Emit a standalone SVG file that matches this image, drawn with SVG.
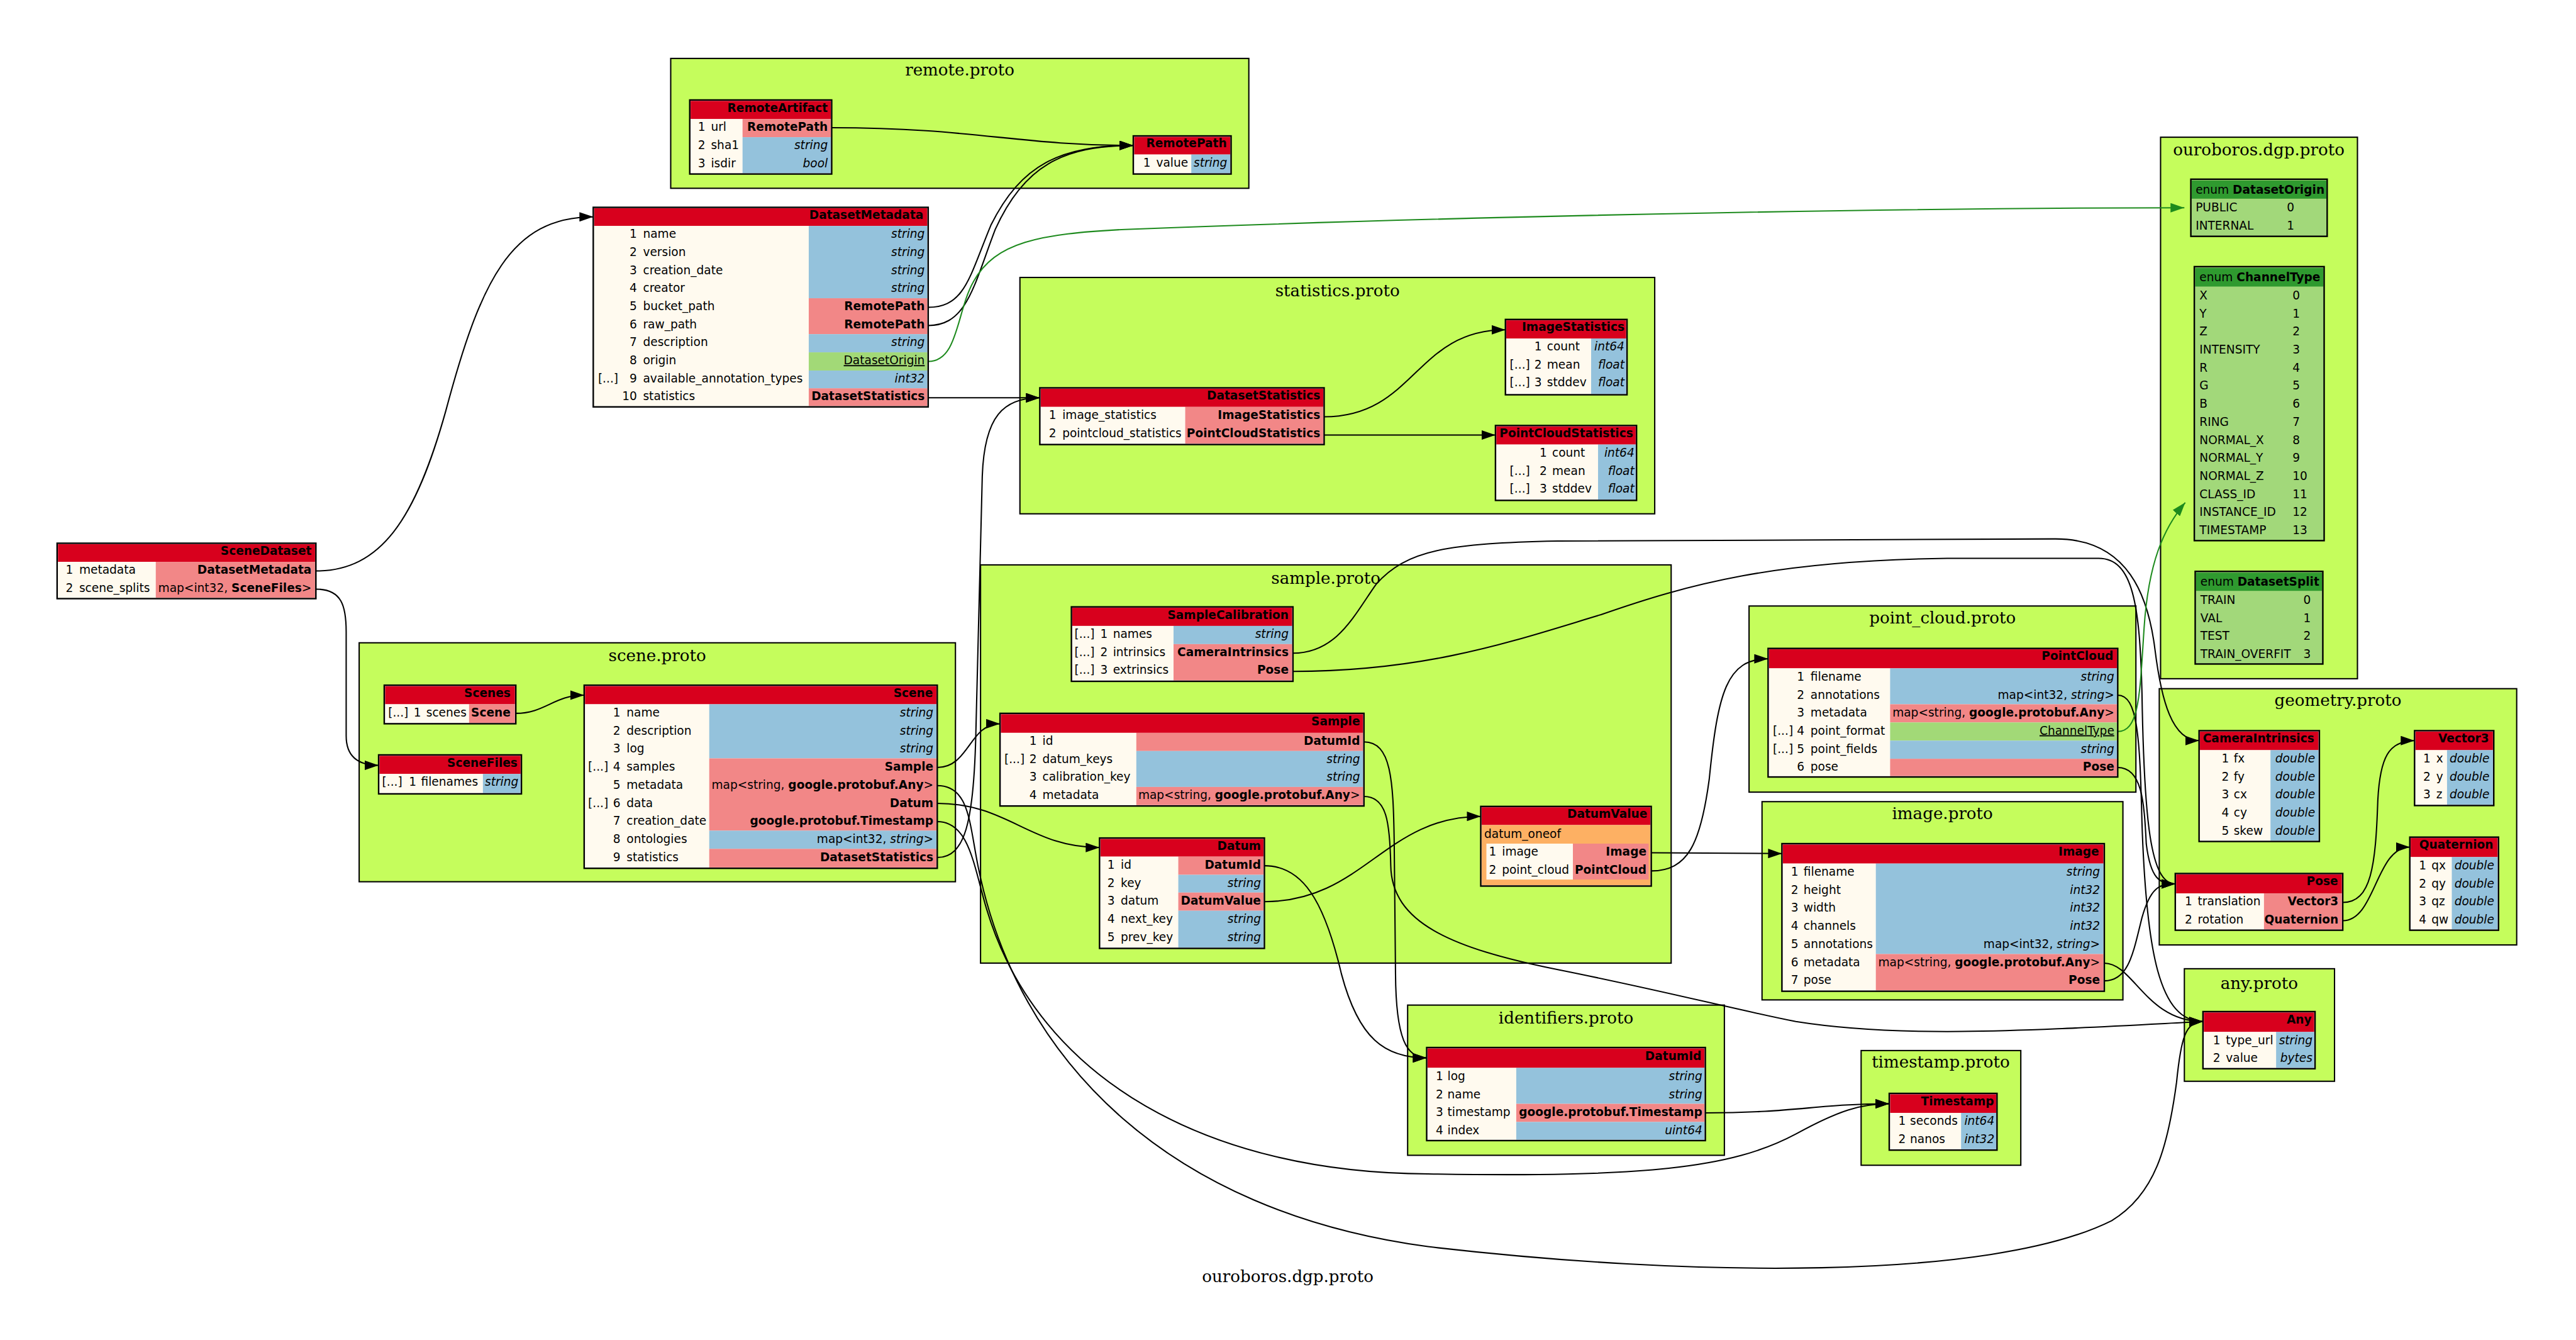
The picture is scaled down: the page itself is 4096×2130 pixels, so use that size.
<svg xmlns="http://www.w3.org/2000/svg" width="4096" height="2130" viewBox="0 0 4096 2130">
<defs>
<style>
.cl{fill:#c5fd5c;stroke:#000;stroke-width:3}
.bx{fill:none;stroke:#000;stroke-width:3.5}
.bg{fill:#fff}
.hd{fill:#d8001d}
.cr{fill:#fffaef}
.pk{fill:#f28787}
.bl{fill:#94c2dc}
.gn{fill:#a2d977}
.og{fill:#fdb063}
.eh{fill:#2f9a2f}
.eb{fill:#a2d87a}
text{font-family:"DejaVu Sans",sans-serif;font-size:27px;fill:#000}
text.ct{font-family:"DejaVu Serif",serif;font-size:38px;text-anchor:middle}
.e{text-anchor:end}
.b{font-weight:bold}
.i{font-style:italic}
.u{text-decoration:underline}
.ed{fill:none;stroke:#000;stroke-width:3}
.eg{fill:none;stroke:#1d8a1d;stroke-width:3}
</style>
<marker id="ab" viewBox="0 0 32 22" refX="32" refY="11" markerWidth="32" markerHeight="22" markerUnits="userSpaceOnUse" orient="auto"><path d="M0,0 L32,11 L0,22 z" fill="#000"/></marker>
<marker id="ag" viewBox="0 0 32 22" refX="32" refY="11" markerWidth="32" markerHeight="22" markerUnits="userSpaceOnUse" orient="auto"><path d="M0,0 L32,11 L0,22 z" fill="#1d8a1d"/></marker>
</defs>
<rect width="4096" height="2130" fill="#fff"/>
<g transform="scale(0.68805)">
<g id="clusters">
<rect class="cl" x="1550" y="135" width="1336" height="300"/><text class="ct" x="2218" y="175">remote.proto</text>
<rect class="cl" x="2357" y="641" width="1467" height="546"/><text class="ct" x="3091" y="684">statistics.proto</text>
<rect class="cl" x="4993" y="317" width="455" height="1251"/><text class="ct" x="5220" y="359">ouroboros.dgp.proto</text>
<rect class="cl" x="830" y="1485" width="1378" height="552"/><text class="ct" x="1519" y="1527">scene.proto</text>
<rect class="cl" x="2266" y="1305" width="1596" height="920"/><text class="ct" x="3064" y="1349">sample.proto</text>
<rect class="cl" x="4042" y="1400" width="894" height="430"/><text class="ct" x="4489" y="1440">point_cloud.proto</text>
<rect class="cl" x="4072" y="1852" width="834" height="458"/><text class="ct" x="4489" y="1892">image.proto</text>
<rect class="cl" x="4990" y="1591" width="826" height="592"/><text class="ct" x="5403" y="1631">geometry.proto</text>
<rect class="cl" x="3253" y="2322" width="732" height="347"/><text class="ct" x="3619" y="2364">identifiers.proto</text>
<rect class="cl" x="4301" y="2427" width="369" height="265"/><text class="ct" x="4485" y="2467">timestamp.proto</text>
<rect class="cl" x="5048" y="2238" width="347" height="260"/><text class="ct" x="5221" y="2285">any.proto</text>
</g>
<text class="ct" x="2976" y="2962">ouroboros.dgp.proto</text>

<g id="edges">
<path class="ed" marker-end="url(#ab)" d="M730,1319 C880,1319 960,1200 1030,950 C1110,650 1180,501 1371,501"/>
<path class="ed" marker-end="url(#ab)" d="M730,1361 C790,1361 800,1400 800,1460 L800,1700 C800,1750 830,1768 875,1768"/>
<path class="ed" marker-end="url(#ab)" d="M1192,1648 C1260,1648 1280,1606 1350,1606"/>
<path class="ed" marker-end="url(#ab)" d="M1922,295 C2250,295 2350,336 2619,336"/>
<path class="ed" marker-end="url(#ab)" d="M2145,710 C2230,710 2240,640 2290,520 C2360,380 2450,336 2619,336"/>
<path class="ed" marker-end="url(#ab)" d="M2145,752 C2235,752 2250,660 2300,530 C2365,385 2455,336 2619,336"/>
<path class="eg" marker-end="url(#ag)" d="M2145,835 C2215,835 2210,720 2250,650 C2300,560 2400,540 2600,530 C3500,495 4500,480 5048,480"/>
<path class="ed" marker-end="url(#ab)" d="M2145,919 C2250,919 2300,919 2403,919"/>
<path class="ed" marker-end="url(#ab)" d="M3060,963 C3270,963 3270,762 3479,762"/>
<path class="ed" marker-end="url(#ab)" d="M3060,1005 L3456,1005"/>
<path class="ed" marker-end="url(#ab)" d="M2166,1981 C2230,1981 2250,1900 2255,1700 L2270,1100 C2275,960 2320,919 2403,919"/>
<path class="ed" marker-end="url(#ab)" d="M2166,1773 C2240,1773 2240,1672 2311,1672"/>
<path class="ed" marker-end="url(#ab)" d="M2166,1856 C2330,1856 2380,1958 2541,1958"/>
<path class="ed" marker-end="url(#ab)" d="M2166,1815 C2240,1815 2240,1900 2260,2000 C2350,2450 2700,2800 3300,2880 C3900,2950 4600,2960 4880,2820 C4980,2760 5010,2650 5030,2500 C5040,2400 5050,2360 5091,2360"/>
<path class="ed" marker-end="url(#ab)" d="M2166,1898 C2240,1898 2250,2000 2280,2100 C2400,2500 2800,2710 3300,2712 C3800,2720 4000,2700 4150,2620 C4250,2565 4300,2550 4366,2550"/>
<path class="ed" marker-end="url(#ab)" d="M3152,1714 C3215,1714 3220,1800 3222,1950 L3225,2250 C3226,2400 3250,2444 3297,2444"/>
<path class="ed" marker-end="url(#ab)" d="M3152,1840 C3205,1840 3212,1900 3214,2000 C3216,2130 3350,2190 3600,2240 C3850,2290 4000,2330 4150,2360 C4400,2400 4700,2380 5091,2360"/>
<path class="ed" marker-end="url(#ab)" d="M2922,2000 C3010,2000 3060,2080 3100,2250 C3140,2400 3200,2444 3297,2444"/>
<path class="ed" marker-end="url(#ab)" d="M2922,2083 C3150,2083 3200,1886 3422,1886"/>
<path class="ed" marker-end="url(#ab)" d="M3816,1970 L4118,1972"/>
<path class="ed" marker-end="url(#ab)" d="M3816,2012 C3900,2012 3930,1950 3950,1800 C3970,1600 3990,1522 4086,1522"/>
<path class="ed" marker-end="url(#ab)" d="M3941,2571 C4150,2571 4200,2550 4366,2550"/>
<path class="ed" marker-end="url(#ab)" d="M2988,1509 C3090,1509 3130,1420 3180,1350 C3250,1270 3350,1255 3600,1250 L4750,1245 C4920,1245 4965,1380 4980,1500 C4995,1620 5020,1711 5082,1711"/>
<path class="ed" marker-end="url(#ab)" d="M2988,1551 C3300,1551 3500,1480 3700,1420 C3900,1350 4100,1295 4500,1290 L4850,1290 C4930,1290 4945,1400 4950,1600 C4955,1900 4970,2042 5027,2042"/>
<path class="ed" marker-end="url(#ab)" d="M4894,1606 C4940,1606 4945,1700 4950,1900 C4960,2200 4990,2360 5091,2360"/>
<path class="ed" marker-end="url(#ab)" d="M4894,1773 C4950,1773 4955,1850 4960,1950 C4970,2030 4990,2042 5027,2042"/>
<path class="eg" marker-end="url(#ag)" d="M4894,1690 C4945,1690 4945,1600 4955,1450 C4965,1300 5000,1220 5050,1161"/>
<path class="ed" marker-end="url(#ab)" d="M4863,2225 C4930,2225 4960,2360 5091,2360"/>
<path class="ed" marker-end="url(#ab)" d="M4863,2266 C4920,2266 4930,2200 4950,2120 C4970,2050 4990,2042 5027,2042"/>
<path class="ed" marker-end="url(#ab)" d="M5414,2085 C5480,2085 5490,2000 5495,1850 C5500,1750 5520,1711 5580,1711"/>
<path class="ed" marker-end="url(#ab)" d="M5414,2127 C5490,2127 5490,1957 5569,1957"/>
</g>

<g id="RemoteArtifact">
<rect class="bg" x="1594" y="231" width="328" height="171"/>
<rect class="hd" x="1596" y="233" width="324" height="42"/>
<rect class="cr" x="1596" y="275" width="120" height="125"/>
<rect class="pk" x="1716" y="275" width="204" height="42"/>
<rect class="bl" x="1716" y="317" width="204" height="83"/>
<rect class="bx" x="1594" y="231" width="328" height="171"/>
<text class="e b" x="1913" y="258">RemoteArtifact</text>
<text x="1613" y="303">1</text><text x="1643" y="303">url</text><text class="e b" x="1913" y="303">RemotePath</text>
<text x="1613" y="345">2</text><text x="1643" y="345">sha1</text><text class="e i" x="1913" y="345">string</text>
<text x="1613" y="386">3</text><text x="1643" y="386">isdir</text><text class="e i" x="1913" y="386">bool</text>
</g>

<g id="RemotePath">
<rect class="bg" x="2619" y="314" width="226" height="88"/>
<rect class="hd" x="2621" y="316" width="222" height="41"/>
<rect class="cr" x="2621" y="357" width="132" height="43"/>
<rect class="bl" x="2753" y="357" width="90" height="43"/>
<rect class="bx" x="2619" y="314" width="226" height="88"/>
<text class="e b" x="2835" y="340">RemotePath</text>
<text x="2642" y="385">1</text><text x="2672" y="385">value</text><text class="e i" x="2836" y="385">string</text>
</g>

<g id="DatasetMetadata">
<rect class="bg" x="1371" y="479" width="774" height="461"/>
<rect class="hd" x="1373" y="481" width="770" height="41"/>
<rect class="cr" x="1373" y="522" width="496" height="416"/>
<rect class="bl" x="1869" y="522" width="274" height="167"/>
<rect class="pk" x="1869" y="689" width="274" height="83"/>
<rect class="bl" x="1869" y="772" width="274" height="42"/>
<rect class="gn" x="1869" y="814" width="274" height="42"/>
<rect class="bl" x="1869" y="856" width="274" height="41"/>
<rect class="pk" x="1869" y="897" width="274" height="41"/>
<rect class="bx" x="1371" y="479" width="774" height="461"/>
<text class="e b" x="2134" y="506">DatasetMetadata</text>
<text class="e" x="1472" y="550">1</text><text x="1486" y="550">name</text><text class="e i" x="2137" y="550">string</text>
<text class="e" x="1472" y="592">2</text><text x="1486" y="592">version</text><text class="e i" x="2137" y="592">string</text>
<text class="e" x="1472" y="633">3</text><text x="1486" y="633">creation_date</text><text class="e i" x="2137" y="633">string</text>
<text class="e" x="1472" y="675">4</text><text x="1486" y="675">creator</text><text class="e i" x="2137" y="675">string</text>
<text class="e" x="1472" y="717">5</text><text x="1486" y="717">bucket_path</text><text class="e b" x="2137" y="717">RemotePath</text>
<text class="e" x="1472" y="758">6</text><text x="1486" y="758">raw_path</text><text class="e b" x="2137" y="758">RemotePath</text>
<text class="e" x="1472" y="800">7</text><text x="1486" y="800">description</text><text class="e i" x="2137" y="800">string</text>
<text class="e" x="1472" y="842">8</text><text x="1486" y="842">origin</text><text class="e u" x="2137" y="842">DatasetOrigin</text>
<text x="1382" y="884">[...]</text><text class="e" x="1472" y="884">9</text><text x="1486" y="884">available_annotation_types</text><text class="e i" x="2137" y="884">int32</text>
<text class="e" x="1472" y="925">10</text><text x="1486" y="925">statistics</text><text class="e b" x="2137" y="925">DatasetStatistics</text>
</g>

<g id="SceneDataset">
<rect class="bg" x="132" y="1255" width="598" height="128"/>
<rect class="hd" x="134" y="1257" width="594" height="41"/>
<rect class="cr" x="134" y="1298" width="226" height="83"/>
<rect class="pk" x="360" y="1298" width="368" height="83"/>
<rect class="bx" x="132" y="1255" width="598" height="128"/>
<text class="e b" x="720" y="1282">SceneDataset</text>
<text x="152" y="1326">1</text><text x="183" y="1326">metadata</text><text class="e b" x="720" y="1326">DatasetMetadata</text>
<text x="152" y="1368">2</text><text x="183" y="1368">scene_splits</text><text class="e" x="720" y="1368">map&lt;int32, <tspan class="b">SceneFiles</tspan>&gt;</text>
</g>

<g id="Scenes">
<rect class="bg" x="888" y="1583" width="304" height="89"/>
<rect class="hd" x="890" y="1585" width="300" height="42"/>
<rect class="cr" x="890" y="1627" width="194" height="43"/>
<rect class="pk" x="1084" y="1627" width="106" height="43"/>
<rect class="bx" x="888" y="1583" width="304" height="89"/>
<text class="e b" x="1180" y="1610">Scenes</text>
<text x="897" y="1655">[...]</text><text x="956" y="1655">1</text><text x="985" y="1655">scenes</text><text class="e b" x="1180" y="1655">Scene</text>
</g>

<g id="SceneFiles">
<rect class="bg" x="875" y="1744" width="330" height="90"/>
<rect class="hd" x="877" y="1746" width="326" height="42"/>
<rect class="cr" x="877" y="1788" width="239" height="44"/>
<rect class="bl" x="1116" y="1788" width="87" height="44"/>
<rect class="bx" x="875" y="1744" width="330" height="90"/>
<text class="e b" x="1196" y="1771">SceneFiles</text>
<text x="883" y="1816">[...]</text><text x="945" y="1816">1</text><text x="973" y="1816">filenames</text><text class="e i" x="1198" y="1816">string</text>
</g>

<g id="Scene">
<rect class="bg" x="1350" y="1583" width="816" height="423"/>
<rect class="hd" x="1352" y="1585" width="812" height="42"/>
<rect class="cr" x="1352" y="1627" width="287" height="377"/>
<rect class="bl" x="1639" y="1627" width="525" height="125"/>
<rect class="pk" x="1639" y="1752" width="525" height="167"/>
<rect class="bl" x="1639" y="1919" width="525" height="42"/>
<rect class="pk" x="1639" y="1961" width="525" height="43"/>
<rect class="bx" x="1350" y="1583" width="816" height="423"/>
<text class="e b" x="2156" y="1610">Scene</text>
<text class="e" x="1434" y="1655">1</text><text x="1448" y="1655">name</text><text class="e i" x="2157" y="1655">string</text>
<text class="e" x="1434" y="1697">2</text><text x="1448" y="1697">description</text><text class="e i" x="2157" y="1697">string</text>
<text class="e" x="1434" y="1738">3</text><text x="1448" y="1738">log</text><text class="e i" x="2157" y="1738">string</text>
<text x="1359" y="1780">[...]</text><text class="e" x="1434" y="1780">4</text><text x="1448" y="1780">samples</text><text class="e b" x="2157" y="1780">Sample</text>
<text class="e" x="1434" y="1822">5</text><text x="1448" y="1822">metadata</text><text class="e" x="2157" y="1822">map&lt;string, <tspan class="b">google.protobuf.Any</tspan>&gt;</text>
<text x="1359" y="1864">[...]</text><text class="e" x="1434" y="1864">6</text><text x="1448" y="1864">data</text><text class="e b" x="2157" y="1864">Datum</text>
<text class="e" x="1434" y="1905">7</text><text x="1448" y="1905">creation_date</text><text class="e b" x="2157" y="1905">google.protobuf.Timestamp</text>
<text class="e" x="1434" y="1947">8</text><text x="1448" y="1947">ontologies</text><text class="e" x="2157" y="1947">map&lt;int32, <tspan class="i">string</tspan>&gt;</text>
<text class="e" x="1434" y="1989">9</text><text x="1448" y="1989">statistics</text><text class="e b" x="2157" y="1989">DatasetStatistics</text>
</g>

<g id="DatasetStatistics">
<rect class="bg" x="2403" y="896" width="657" height="131"/>
<rect class="hd" x="2405" y="898" width="653" height="42"/>
<rect class="cr" x="2405" y="940" width="334" height="85"/>
<rect class="pk" x="2739" y="940" width="319" height="85"/>
<rect class="bx" x="2403" y="896" width="657" height="131"/>
<text class="e b" x="3051" y="923">DatasetStatistics</text>
<text x="2424" y="968">1</text><text x="2455" y="968">image_statistics</text><text class="e b" x="3051" y="968">ImageStatistics</text>
<text x="2424" y="1010">2</text><text x="2455" y="1010">pointcloud_statistics</text><text class="e b" x="3051" y="1010">PointCloudStatistics</text>
</g>

<g id="ImageStatistics">
<rect class="bg" x="3479" y="738" width="281" height="174"/>
<rect class="hd" x="3481" y="740" width="277" height="42"/>
<rect class="cr" x="3481" y="782" width="196" height="128"/>
<rect class="bl" x="3677" y="782" width="81" height="128"/>
<rect class="bx" x="3479" y="738" width="281" height="174"/>
<text class="e b" x="3754" y="765">ImageStatistics</text>
<text class="e" x="3563" y="810">1</text><text x="3575" y="810">count</text><text class="e i" x="3754" y="810">int64</text>
<text x="3489" y="852">[...]</text><text class="e" x="3563" y="852">2</text><text x="3575" y="852">mean</text><text class="e i" x="3754" y="852">float</text>
<text x="3489" y="893">[...]</text><text class="e" x="3563" y="893">3</text><text x="3575" y="893">stddev</text><text class="e i" x="3754" y="893">float</text>
</g>

<g id="PointCloudStatistics">
<rect class="bg" x="3456" y="983" width="326" height="173"/>
<rect class="hd" x="3458" y="985" width="322" height="42"/>
<rect class="cr" x="3458" y="1027" width="235" height="127"/>
<rect class="bl" x="3693" y="1027" width="87" height="127"/>
<rect class="bx" x="3456" y="983" width="326" height="173"/>
<text class="e b" x="3774" y="1010">PointCloudStatistics</text>
<text class="e" x="3575" y="1055">1</text><text x="3587" y="1055">count</text><text class="e i" x="3777" y="1055">int64</text>
<text x="3489" y="1097">[...]</text><text class="e" x="3575" y="1097">2</text><text x="3587" y="1097">mean</text><text class="e i" x="3777" y="1097">float</text>
<text x="3489" y="1138">[...]</text><text class="e" x="3575" y="1138">3</text><text x="3587" y="1138">stddev</text><text class="e i" x="3777" y="1138">float</text>
</g>

<g id="SampleCalibration">
<rect class="bg" x="2476" y="1402" width="512" height="172"/>
<rect class="hd" x="2478" y="1404" width="508" height="42"/>
<rect class="cr" x="2478" y="1446" width="234" height="126"/>
<rect class="bl" x="2712" y="1446" width="274" height="42"/>
<rect class="pk" x="2712" y="1488" width="274" height="84"/>
<rect class="bx" x="2476" y="1402" width="512" height="172"/>
<text class="e b" x="2978" y="1430">SampleCalibration</text>
<text x="2483" y="1474">[...]</text><text class="e" x="2560" y="1474">1</text><text x="2572" y="1474">names</text><text class="e i" x="2978" y="1474">string</text>
<text x="2483" y="1516">[...]</text><text class="e" x="2560" y="1516">2</text><text x="2572" y="1516">intrinsics</text><text class="e b" x="2978" y="1516">CameraIntrinsics</text>
<text x="2483" y="1557">[...]</text><text class="e" x="2560" y="1557">3</text><text x="2572" y="1557">extrinsics</text><text class="e b" x="2978" y="1557">Pose</text>
</g>

<g id="Sample">
<rect class="bg" x="2311" y="1648" width="841" height="214"/>
<rect class="hd" x="2313" y="1650" width="837" height="43"/>
<rect class="cr" x="2313" y="1693" width="313" height="167"/>
<rect class="pk" x="2626" y="1693" width="524" height="42"/>
<rect class="bl" x="2626" y="1735" width="524" height="83"/>
<rect class="pk" x="2626" y="1818" width="524" height="42"/>
<rect class="bx" x="2311" y="1648" width="841" height="214"/>
<text class="e b" x="3143" y="1676">Sample</text>
<text class="e" x="2396" y="1721">1</text><text x="2409" y="1721">id</text><text class="e b" x="3143" y="1721">DatumId</text>
<text x="2321" y="1763">[...]</text><text class="e" x="2396" y="1763">2</text><text x="2409" y="1763">datum_keys</text><text class="e i" x="3143" y="1763">string</text>
<text class="e" x="2396" y="1804">3</text><text x="2409" y="1804">calibration_key</text><text class="e i" x="3143" y="1804">string</text>
<text class="e" x="2396" y="1846">4</text><text x="2409" y="1846">metadata</text><text class="e" x="3143" y="1846">map&lt;string, <tspan class="b">google.protobuf.Any</tspan>&gt;</text>
</g>

<g id="Datum">
<rect class="bg" x="2541" y="1936" width="381" height="255"/>
<rect class="hd" x="2543" y="1938" width="377" height="41"/>
<rect class="cr" x="2543" y="1979" width="180" height="210"/>
<rect class="pk" x="2723" y="1979" width="197" height="42"/>
<rect class="bl" x="2723" y="2021" width="197" height="41"/>
<rect class="pk" x="2723" y="2062" width="197" height="42"/>
<rect class="bl" x="2723" y="2104" width="197" height="85"/>
<rect class="bx" x="2541" y="1936" width="381" height="255"/>
<text class="e b" x="2914" y="1963">Datum</text>
<text x="2559" y="2007">1</text><text x="2590" y="2007">id</text><text class="e b" x="2914" y="2007">DatumId</text>
<text x="2559" y="2049">2</text><text x="2590" y="2049">key</text><text class="e i" x="2914" y="2049">string</text>
<text x="2559" y="2090">3</text><text x="2590" y="2090">datum</text><text class="e b" x="2914" y="2090">DatumValue</text>
<text x="2559" y="2132">4</text><text x="2590" y="2132">next_key</text><text class="e i" x="2914" y="2132">string</text>
<text x="2559" y="2174">5</text><text x="2590" y="2174">prev_key</text><text class="e i" x="2914" y="2174">string</text>
</g>

<g id="DatumValue">
<rect class="bg" x="3422" y="1863" width="394" height="184"/>
<rect class="hd" x="3424" y="1865" width="390" height="41"/>
<rect class="og" x="3424" y="1906" width="390" height="139"/>
<rect class="cr" x="3435" y="1949" width="200" height="83"/>
<rect class="pk" x="3635" y="1949" width="175" height="83"/>
<rect class="bx" x="3422" y="1863" width="394" height="184"/>
<text class="e b" x="3807" y="1890">DatumValue</text>
<text x="3430" y="1936">datum_oneof</text>
<text x="3441" y="1977">1</text><text x="3471" y="1977">image</text><text class="e b" x="3805" y="1977">Image</text>
<text x="3441" y="2019">2</text><text x="3471" y="2019">point_cloud</text><text class="e b" x="3805" y="2019">PointCloud</text>
</g>

<g id="PointCloud">
<rect class="bg" x="4086" y="1498" width="808" height="297"/>
<rect class="hd" x="4088" y="1500" width="804" height="44"/>
<rect class="cr" x="4088" y="1544" width="280" height="249"/>
<rect class="bl" x="4368" y="1544" width="524" height="83"/>
<rect class="pk" x="4368" y="1627" width="524" height="42"/>
<rect class="gn" x="4368" y="1669" width="524" height="42"/>
<rect class="bl" x="4368" y="1711" width="524" height="42"/>
<rect class="pk" x="4368" y="1753" width="524" height="40"/>
<rect class="bx" x="4086" y="1498" width="808" height="297"/>
<text class="e b" x="4884" y="1525">PointCloud</text>
<text class="e" x="4170" y="1572">1</text><text x="4184" y="1572">filename</text><text class="e i" x="4886" y="1572">string</text>
<text class="e" x="4170" y="1614">2</text><text x="4184" y="1614">annotations</text><text class="e" x="4886" y="1614">map&lt;int32, <tspan class="i">string</tspan>&gt;</text>
<text class="e" x="4170" y="1655">3</text><text x="4184" y="1655">metadata</text><text class="e" x="4886" y="1655">map&lt;string, <tspan class="b">google.protobuf.Any</tspan>&gt;</text>
<text x="4097" y="1697">[...]</text><text class="e" x="4170" y="1697">4</text><text x="4184" y="1697">point_format</text><text class="e u" x="4886" y="1697">ChannelType</text>
<text x="4097" y="1739">[...]</text><text class="e" x="4170" y="1739">5</text><text x="4184" y="1739">point_fields</text><text class="e i" x="4886" y="1739">string</text>
<text class="e" x="4170" y="1781">6</text><text x="4184" y="1781">pose</text><text class="e b" x="4886" y="1781">Pose</text>
</g>

<g id="Image">
<rect class="bg" x="4118" y="1949" width="745" height="341"/>
<rect class="hd" x="4120" y="1951" width="741" height="44"/>
<rect class="cr" x="4120" y="1995" width="215" height="293"/>
<rect class="bl" x="4335" y="1995" width="526" height="209"/>
<rect class="pk" x="4335" y="2204" width="526" height="84"/>
<rect class="bx" x="4118" y="1949" width="745" height="341"/>
<text class="e b" x="4851" y="1976">Image</text>
<text x="4139" y="2023">1</text><text x="4168" y="2023">filename</text><text class="e i" x="4853" y="2023">string</text>
<text x="4139" y="2065">2</text><text x="4168" y="2065">height</text><text class="e i" x="4853" y="2065">int32</text>
<text x="4139" y="2106">3</text><text x="4168" y="2106">width</text><text class="e i" x="4853" y="2106">int32</text>
<text x="4139" y="2148">4</text><text x="4168" y="2148">channels</text><text class="e i" x="4853" y="2148">int32</text>
<text x="4139" y="2190">5</text><text x="4168" y="2190">annotations</text><text class="e" x="4853" y="2190">map&lt;int32, <tspan class="i">string</tspan>&gt;</text>
<text x="4139" y="2232">6</text><text x="4168" y="2232">metadata</text><text class="e" x="4853" y="2232">map&lt;string, <tspan class="b">google.protobuf.Any</tspan>&gt;</text>
<text x="4139" y="2273">7</text><text x="4168" y="2273">pose</text><text class="e b" x="4853" y="2273">Pose</text>
</g>

<g id="DatumId">
<rect class="bg" x="3297" y="2420" width="644" height="215"/>
<rect class="hd" x="3299" y="2422" width="640" height="45"/>
<rect class="cr" x="3299" y="2467" width="205" height="166"/>
<rect class="bl" x="3504" y="2467" width="435" height="83"/>
<rect class="pk" x="3504" y="2550" width="435" height="42"/>
<rect class="bl" x="3504" y="2592" width="435" height="41"/>
<rect class="bx" x="3297" y="2420" width="644" height="215"/>
<text class="e b" x="3932" y="2449">DatumId</text>
<text x="3318" y="2495">1</text><text x="3345" y="2495">log</text><text class="e i" x="3934" y="2495">string</text>
<text x="3318" y="2537">2</text><text x="3345" y="2537">name</text><text class="e i" x="3934" y="2537">string</text>
<text x="3318" y="2578">3</text><text x="3345" y="2578">timestamp</text><text class="e b" x="3934" y="2578">google.protobuf.Timestamp</text>
<text x="3318" y="2620">4</text><text x="3345" y="2620">index</text><text class="e i" x="3934" y="2620">uint64</text>
</g>

<g id="Timestamp">
<rect class="bg" x="4366" y="2526" width="249" height="131"/>
<rect class="hd" x="4368" y="2528" width="245" height="43"/>
<rect class="cr" x="4368" y="2571" width="164" height="84"/>
<rect class="bl" x="4532" y="2571" width="81" height="84"/>
<rect class="bx" x="4366" y="2526" width="249" height="131"/>
<text class="e b" x="4608" y="2553">Timestamp</text>
<text x="4387" y="2599">1</text><text x="4414" y="2599">seconds</text><text class="e i" x="4609" y="2599">int64</text>
<text x="4387" y="2641">2</text><text x="4414" y="2641">nanos</text><text class="e i" x="4609" y="2641">int32</text>
</g>

<g id="Any">
<rect class="bg" x="5091" y="2337" width="259" height="132"/>
<rect class="hd" x="5093" y="2339" width="255" height="45"/>
<rect class="cr" x="5093" y="2384" width="167" height="83"/>
<rect class="bl" x="5260" y="2384" width="88" height="83"/>
<rect class="bx" x="5091" y="2337" width="259" height="132"/>
<text class="e b" x="5342" y="2365">Any</text>
<text x="5114" y="2412">1</text><text x="5144" y="2412">type_url</text><text class="e i" x="5344" y="2412">string</text>
<text x="5114" y="2454">2</text><text x="5144" y="2454">value</text><text class="e i" x="5344" y="2454">bytes</text>
</g>

<g id="CameraIntrinsics">
<rect class="bg" x="5082" y="1688" width="278" height="256"/>
<rect class="hd" x="5084" y="1690" width="274" height="43"/>
<rect class="cr" x="5084" y="1733" width="163" height="209"/>
<rect class="bl" x="5247" y="1733" width="111" height="209"/>
<rect class="bx" x="5082" y="1688" width="278" height="256"/>
<text class="e b" x="5348" y="1715">CameraIntrinsics</text>
<text x="5134" y="1761">1</text><text x="5162" y="1761">fx</text><text class="e i" x="5350" y="1761">double</text>
<text x="5134" y="1803">2</text><text x="5162" y="1803">fy</text><text class="e i" x="5350" y="1803">double</text>
<text x="5134" y="1844">3</text><text x="5162" y="1844">cx</text><text class="e i" x="5350" y="1844">double</text>
<text x="5134" y="1886">4</text><text x="5162" y="1886">cy</text><text class="e i" x="5350" y="1886">double</text>
<text x="5134" y="1928">5</text><text x="5162" y="1928">skew</text><text class="e i" x="5350" y="1928">double</text>
</g>

<g id="Vector3">
<rect class="bg" x="5580" y="1688" width="183" height="173"/>
<rect class="hd" x="5582" y="1690" width="179" height="43"/>
<rect class="cr" x="5582" y="1733" width="73" height="126"/>
<rect class="bl" x="5655" y="1733" width="106" height="126"/>
<rect class="bx" x="5580" y="1688" width="183" height="173"/>
<text class="e b" x="5752" y="1715">Vector3</text>
<text x="5600" y="1761">1</text><text x="5630" y="1761">x</text><text class="e i" x="5753" y="1761">double</text>
<text x="5600" y="1803">2</text><text x="5630" y="1803">y</text><text class="e i" x="5753" y="1803">double</text>
<text x="5600" y="1844">3</text><text x="5630" y="1844">z</text><text class="e i" x="5753" y="1844">double</text>
</g>

<g id="Quaternion">
<rect class="bg" x="5569" y="1934" width="205" height="215"/>
<rect class="hd" x="5571" y="1936" width="201" height="44"/>
<rect class="cr" x="5571" y="1980" width="95" height="167"/>
<rect class="bl" x="5666" y="1980" width="106" height="167"/>
<rect class="bx" x="5569" y="1934" width="205" height="215"/>
<text class="e b" x="5762" y="1961">Quaternion</text>
<text x="5590" y="2008">1</text><text x="5619" y="2008">qx</text><text class="e i" x="5764" y="2008">double</text>
<text x="5590" y="2050">2</text><text x="5619" y="2050">qy</text><text class="e i" x="5764" y="2050">double</text>
<text x="5590" y="2091">3</text><text x="5619" y="2091">qz</text><text class="e i" x="5764" y="2091">double</text>
<text x="5590" y="2133">4</text><text x="5619" y="2133">qw</text><text class="e i" x="5764" y="2133">double</text>
</g>

<g id="Pose">
<rect class="bg" x="5027" y="2018" width="387" height="131"/>
<rect class="hd" x="5029" y="2020" width="383" height="44"/>
<rect class="cr" x="5029" y="2064" width="203" height="83"/>
<rect class="pk" x="5232" y="2064" width="180" height="83"/>
<rect class="bx" x="5027" y="2018" width="387" height="131"/>
<text class="e b" x="5403" y="2045">Pose</text>
<text x="5049" y="2092">1</text><text x="5079" y="2092">translation</text><text class="e b" x="5404" y="2092">Vector3</text>
<text x="5049" y="2134">2</text><text x="5079" y="2134">rotation</text><text class="e b" x="5404" y="2134">Quaternion</text>
</g>

<g id="DatasetOrigin">
<rect class="eb" x="5063" y="414" width="315" height="132"/>
<rect class="eh" x="5065" y="417" width="311" height="42"/>
<rect class="bx" x="5063" y="414" width="315" height="132"/>
<text x="5074" y="447">enum <tspan class="b">DatasetOrigin</tspan></text>
<text x="5074" y="489">PUBLIC</text><text x="5285" y="489">0</text>
<text x="5074" y="531">INTERNAL</text><text x="5285" y="531">1</text>
</g>

<g id="ChannelType">
<rect class="eb" x="5071" y="616" width="300" height="633"/>
<rect class="eh" x="5073" y="619" width="296" height="43"/>
<rect class="bx" x="5071" y="616" width="300" height="633"/>
<text x="5083" y="649">enum <tspan class="b">ChannelType</tspan></text>
<text x="5083" y="692">X</text><text x="5298" y="692">0</text>
<text x="5083" y="734">Y</text><text x="5298" y="734">1</text>
<text x="5083" y="775">Z</text><text x="5298" y="775">2</text>
<text x="5083" y="817">INTENSITY</text><text x="5298" y="817">3</text>
<text x="5083" y="859">R</text><text x="5298" y="859">4</text>
<text x="5083" y="900">G</text><text x="5298" y="900">5</text>
<text x="5083" y="942">B</text><text x="5298" y="942">6</text>
<text x="5083" y="984">RING</text><text x="5298" y="984">7</text>
<text x="5083" y="1026">NORMAL_X</text><text x="5298" y="1026">8</text>
<text x="5083" y="1067">NORMAL_Y</text><text x="5298" y="1067">9</text>
<text x="5083" y="1109">NORMAL_Z</text><text x="5298" y="1109">10</text>
<text x="5083" y="1151">CLASS_ID</text><text x="5298" y="1151">11</text>
<text x="5083" y="1192">INSTANCE_ID</text><text x="5298" y="1192">12</text>
<text x="5083" y="1234">TIMESTAMP</text><text x="5298" y="1234">13</text>
</g>

<g id="DatasetSplit">
<rect class="eb" x="5073" y="1320" width="295" height="214"/>
<rect class="eh" x="5075" y="1323" width="291" height="42"/>
<rect class="bx" x="5073" y="1320" width="295" height="214"/>
<text x="5085" y="1353">enum <tspan class="b">DatasetSplit</tspan></text>
<text x="5085" y="1395">TRAIN</text><text x="5323" y="1395">0</text>
<text x="5085" y="1437">VAL</text><text x="5323" y="1437">1</text>
<text x="5085" y="1478">TEST</text><text x="5323" y="1478">2</text>
<text x="5085" y="1520">TRAIN_OVERFIT</text><text x="5323" y="1520">3</text>
</g>
</g>
</svg>
